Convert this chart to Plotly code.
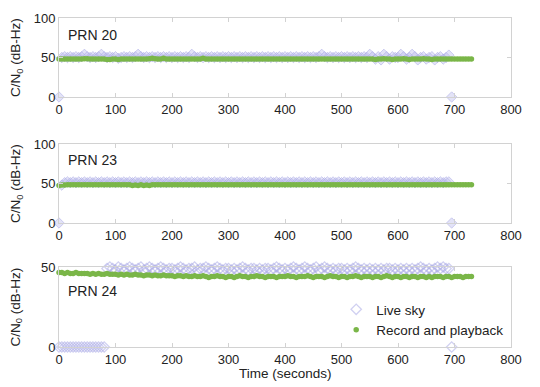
import plotly.graph_objects as go

# ---------------- data ----------------
# sample times (seconds)
time_live_20 = list(range(0, 700, 5))
time_rec_20 = list(range(0, 735, 5))
time_live_23 = list(range(0, 700, 5))
time_rec_23 = list(range(0, 735, 5))
time_live_24 = list(range(0, 700, 5))
time_rec_24 = list(range(0, 735, 5))

live_20 = [
    0, 50, 51, 50, 51, 50, 51, 50, 51, 54, 51, 50, 51, 50, 51, 54, 51, 50, 51, 50,
    51, 49, 50, 51, 50, 51, 50, 51, 54, 51, 50, 51, 50, 51, 50, 51, 50, 51, 50, 51,
    50, 51, 50, 51, 50, 51, 50, 54, 51, 50, 51, 50, 51, 50, 51, 50, 51, 50, 51, 50,
    51, 50, 51, 50, 51, 50, 51, 50, 51, 50, 51, 50, 51, 50, 51, 50, 51, 50, 51, 50,
    51, 50, 51, 50, 51, 50, 51, 50, 51, 50, 51, 50, 51, 54, 51, 50, 51, 50, 51, 50,
    51, 50, 51, 50, 51, 50, 51, 50, 51, 50, 54, 51, 48, 51, 47, 54, 51, 48, 51, 50,
    50, 54, 51, 48, 50, 54, 51, 47, 50, 51, 48, 50, 51, 47, 50, 51, 48, 50, 53, 0,
]
rec_20 = [
    48, 48, 48, 48, 48, 48, 48, 48, 48, 48.5, 48.5, 48, 48, 48, 48, 48, 48, 47.5, 47.5, 48,
    48, 47.5, 48, 48, 48, 48, 48, 48, 48, 48, 48, 48, 48.5, 49, 48.5, 48, 48, 49, 48, 48,
    48, 48, 48, 48, 48, 48, 48, 48, 48, 48, 48, 49, 48, 48, 48, 48, 48, 48, 48, 48,
    48, 48, 48, 48, 48, 48, 48, 48, 48, 48, 48, 48, 48, 48, 48, 48, 48, 48, 48, 48,
    48, 48, 48, 48, 48, 48, 48, 48, 48, 48, 48, 48, 48, 48, 48, 48, 48, 48, 48, 48,
    48, 48, 48, 48, 48, 48, 48, 48, 48, 48, 48, 48, 47.5, 48, 48, 48.5, 48, 48, 47.5, 48,
    48, 48, 48.5, 48, 47.5, 48, 48, 48, 48, 48.5, 48, 48, 47.5, 48, 48, 48, 48, 48, 48, 48,
    48, 48, 48, 48, 48, 48, 48,
]

live_23 = [
    0, 48, 51, 52, 51, 52, 51, 52, 51, 52, 51, 52, 51, 52, 51, 52, 51, 52, 51, 52,
    51, 52, 51, 52, 51, 52, 51, 52, 51, 52, 51, 52, 51, 52, 51, 52, 51, 52, 51, 52,
    51, 52, 51, 52, 51, 52, 51, 52, 51, 52, 51, 52, 51, 52, 51, 52, 51, 52, 51, 52,
    51, 52, 51, 52, 51, 52, 51, 52, 51, 52, 51, 52, 51, 52, 51, 52, 51, 52, 51, 52,
    51, 52, 51, 52, 51, 52, 51, 52, 51, 52, 51, 52, 51, 52, 51, 52, 51, 52, 51, 52,
    51, 52, 51, 52, 51, 52, 51, 52, 51, 52, 51, 52, 51, 52, 51, 52, 51, 52, 51, 52,
    51, 52, 51, 52, 51, 52, 51, 52, 51, 52, 51, 52, 51, 52, 51, 52, 51, 52, 52, 0,
]
rec_23 = [
    47.5, 48, 48, 48.5, 48.5, 48.5, 48.5, 48.5, 48.5, 48.5, 48.5, 48.5, 48.5, 48.5, 48.5, 48.5, 48.5, 48.5, 48.5, 48.5,
    48.5, 48.5, 48.5, 48.5, 48.5, 48.5, 47.5, 48, 47.5, 48.5, 47.5, 48, 47.5, 48.5, 48.5, 48.5, 48.5, 48.5, 48.5, 48.5,
    48.5, 48.5, 48.5, 48.5, 48.5, 48.5, 48.5, 48.5, 48.5, 48.5, 48.5, 48.5, 48.5, 48.5, 48.5, 48.5, 48.5, 48.5, 48.5, 48.5,
    48.5, 48.5, 48.5, 48.5, 48.5, 48.5, 48.5, 48.5, 48.5, 48.5, 48.5, 48.5, 48.5, 48.5, 48.5, 48.5, 48.5, 48.5, 48.5, 48.5,
    48.5, 48.5, 48.5, 48.5, 48.5, 48.5, 48.5, 48.5, 48.5, 48.5, 48.5, 48.5, 48.5, 48.5, 48.5, 48.5, 48.5, 48.5, 48.5, 48.5,
    48.5, 48.5, 48.5, 48.5, 48.5, 48.5, 48.5, 48.5, 48.5, 48.5, 48.5, 48.5, 48.5, 48.5, 48.5, 48.5, 48.5, 48.5, 48.5, 48.5,
    48.5, 48.5, 48.5, 48.5, 48.5, 48.5, 48.5, 48.5, 48.5, 48.5, 48.5, 48.5, 48.5, 48.5, 48.5, 48.5, 48.5, 48.5, 48.5, 48.5,
    48.5, 48.5, 48.5, 48.5, 48.5, 48.5, 48.5,
]

live_24 = [
    0, 0, 0, 0, 0, 0, 0, 0, 0, 0, 0, 0, 0, 0, 0, 0, 0, 49, 50, 49,
    48, 50, 49, 48, 49, 50, 49, 48, 49, 50, 48, 49, 50, 49, 48, 49, 50, 49, 48, 49,
    49, 48, 49, 50, 49, 48, 49, 49, 50, 48, 49, 49, 50, 49, 48, 49, 50, 49, 48, 49,
    49, 48, 49, 48, 49, 50, 49, 48, 49, 49, 48, 49, 48, 49, 49, 48, 49, 50, 49, 48,
    49, 48, 49, 50, 49, 48, 49, 50, 49, 48, 49, 50, 48, 49, 50, 49, 48, 49, 48, 49,
    49, 48, 49, 48, 49, 50, 49, 48, 49, 48, 49, 48, 49, 48, 49, 48, 49, 49, 48, 49,
    48, 49, 48, 49, 48, 49, 48, 49, 50, 49, 48, 49, 48, 49, 50, 49, 50, 49, 49, 0,
]
rec_24 = [
    46.5, 46.5, 46, 46.5, 46, 46, 46.5, 46, 46, 46, 46, 45.5, 46, 45.5, 46, 45.5, 45.5, 46, 45.5, 45.5,
    45.5, 45, 45.5, 45, 45.5, 45, 45, 45.5, 45, 45, 44.5, 45, 45, 44.5, 45, 44.5, 44.5, 45, 44.5, 44.5,
    44.5, 44, 44.5, 44.5, 44, 44.5, 44, 44, 44.5, 44, 44, 44.5, 44, 43.5, 44, 44, 44.5, 44, 44, 43.5,
    44, 44, 43.5, 44, 44.5, 44, 44, 43.5, 44, 44, 44.5, 44, 44, 43.5, 44, 44, 44, 43.5, 44, 44,
    44, 44.5, 44, 44, 43.5, 44, 44, 44, 44.5, 44, 43.5, 44, 44, 44, 43.5, 44, 44.5, 44, 44, 43.5,
    44, 44, 43.5, 44, 44, 44.5, 44, 43.5, 44, 44, 44, 43.5, 44, 44, 43.5, 44, 44.5, 44, 43.5, 44,
    44, 43.5, 44, 44, 43.5, 44, 44, 43.5, 44, 44, 43.5, 44, 43.5, 44, 44, 44, 43.5, 44, 44, 43.5,
    44, 44, 44, 43.5, 44, 44, 44,
]

prn_labels = ["PRN 20", "PRN 23", "PRN 24"]
y_ranges = [[0, 100], [0, 100], [0, 50]]
y_ticks = [[0, 50, 100], [0, 50, 100], [0, 50]]
x_ticks = [0, 100, 200, 300, 400, 500, 600, 700, 800]
series_names = ["Live sky", "Record and playback"]

# ---------------- styling ----------------
# the page body has an 8px margin, so the figure is laid out 8px up/left of the target
OFF = 8
FONT = "Liberation Sans, Arial, Helvetica, sans-serif"
LIVE_LINE = "rgba(170,170,230,0.55)"
LIVE_FILL = "rgba(188,188,236,0.42)"
REC_COLOR = "#7ab648"
FRAME = "#d2d2d2"
TXT = "#222"
W, H = 540 - OFF, 387 - OFF
L = 58.5 - OFF
RIGHT_EDGE = 511 - OFF
R = W - RIGHT_EDGE
PW = RIGHT_EDGE - L
panels_px = [(18 - OFF, 97 - OFF), (144 - OFF, 223 - OFF), (267 - OFF, 347 - OFF)]


def px_x(x):
    return (x - OFF - L) / PW


def px_y(y):
    return 1 - (y - OFF) / H


fig = go.Figure()

live_sets = [(time_live_20, live_20), (time_live_23, live_23), (time_live_24, live_24)]
rec_sets = [(time_rec_20, rec_20), (time_rec_23, rec_23), (time_rec_24, rec_24)]

for i in range(3):
    xa = "x" if i == 0 else f"x{i+1}"
    ya = "y" if i == 0 else f"y{i+1}"
    show = i == 2
    if i < 2:
        live_marker = dict(symbol="diamond", size=8, color=LIVE_FILL,
                           line=dict(width=1, color=LIVE_LINE))
    else:
        live_marker = dict(symbol="diamond-open", size=8, color=LIVE_LINE,
                           line=dict(width=1.3, color=LIVE_LINE))
    fig.add_trace(go.Scatter(
        x=live_sets[i][0], y=live_sets[i][1], mode="markers", name=series_names[0],
        xaxis=xa, yaxis=ya, showlegend=show, cliponaxis=False, marker=live_marker,
    ))
    fig.add_trace(go.Scatter(
        x=rec_sets[i][0], y=rec_sets[i][1], mode="markers", name=series_names[1],
        xaxis=xa, yaxis=ya, showlegend=show, cliponaxis=False,
        marker=dict(symbol="circle", size=5.5, color=REC_COLOR, line=dict(width=0)),
    ))

layout = dict(
    width=W, height=H,
    margin=dict(l=L, r=R, t=0, b=0, pad=0, autoexpand=False),
    paper_bgcolor="white", plot_bgcolor="white",
    font=dict(family=FONT, size=13, color=TXT),
    showlegend=True,
    legend=dict(x=px_x(336), y=px_y(294), xanchor="left", yanchor="top",
                bgcolor="rgba(0,0,0,0)", font=dict(size=13.5, color=TXT),
                itemsizing="trace", tracegroupgap=0),
)

annotations = []
for i in range(3):
    top, bot = panels_px[i]
    dom = [1 - bot / H, 1 - top / H]
    xkey = "xaxis" if i == 0 else f"xaxis{i+1}"
    ykey = "yaxis" if i == 0 else f"yaxis{i+1}"
    anchor_x = "y" if i == 0 else f"y{i+1}"
    anchor_y = "x" if i == 0 else f"x{i+1}"
    layout[xkey] = dict(
        domain=[0, 1], anchor=anchor_x, range=[0, 800], tickvals=x_ticks,
        showline=True, linecolor=FRAME, linewidth=1, mirror="ticks",
        ticks="inside", ticklen=4, tickcolor=FRAME, showgrid=False, zeroline=False,
        tickfont=dict(size=13, color=TXT), automargin=False,
    )
    layout[ykey] = dict(
        domain=dom, anchor=anchor_y, range=y_ranges[i], tickvals=y_ticks[i],
        showline=True, linecolor=FRAME, linewidth=1, mirror="ticks",
        ticks="inside", ticklen=4, tickcolor=FRAME, showgrid=False, zeroline=False,
        tickfont=dict(size=13, color=TXT), automargin=False,
    )
    annotations.append(dict(
        text="C/N<sub>0</sub> (dB-Hz)", xref="paper", yref="paper",
        x=px_x(16), y=(dom[0] + dom[1]) / 2, textangle=-90,
        showarrow=False, xanchor="center", yanchor="middle",
        font=dict(size=13.5, color=TXT),
    ))

prn_y = [35, 160, 291]
for i in range(3):
    annotations.append(dict(
        text=prn_labels[i], xref="paper", yref="paper",
        x=px_x(66), y=px_y(prn_y[i]), xanchor="left", yanchor="middle",
        showarrow=False, font=dict(size=14, color=TXT),
    ))

annotations.append(dict(
    text="Time (seconds)", xref="paper", yref="paper", x=0.5, y=px_y(373),
    xanchor="center", yanchor="middle", showarrow=False, font=dict(size=13.5, color=TXT),
))

layout["annotations"] = annotations
fig.update_layout(**layout)

fig.write_html("out.html")
